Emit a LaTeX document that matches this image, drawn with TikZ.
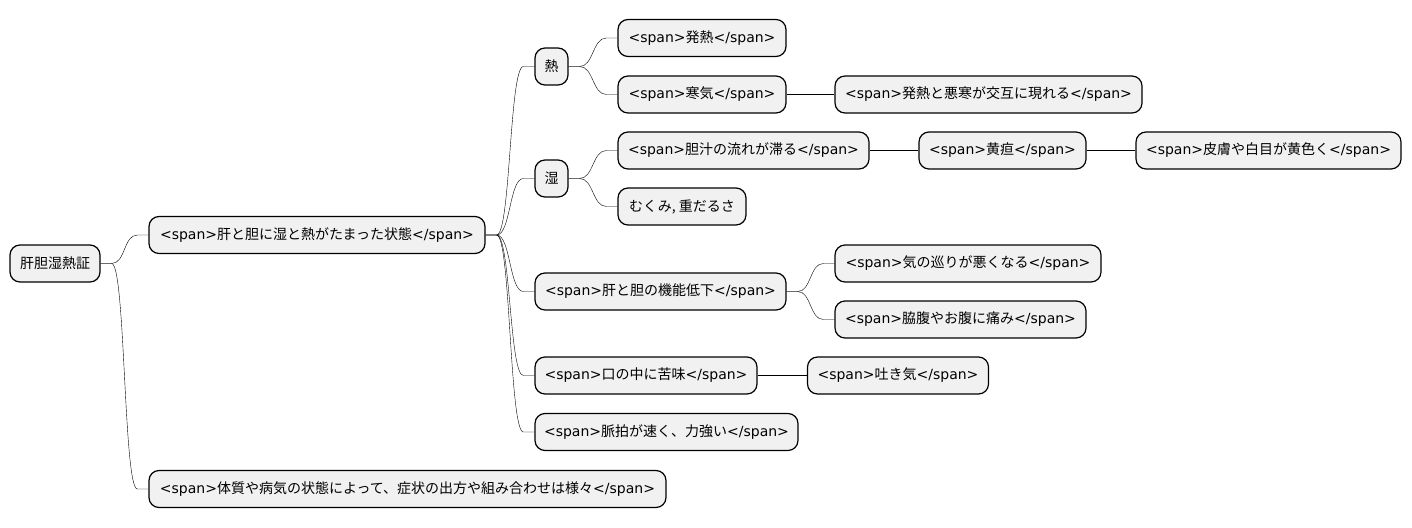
\documentclass[tikz,border=0pt]{standalone}
\usepackage{fontspec}
\setmainfont{Noto Sans CJK JP}
\newfontfamily\dejavu{DejaVu Sans}
\usetikzlibrary{calc}
\definecolor{boxfill}{HTML}{F1F1F1}
\newcommand\latn[1]{{\dejavu #1}}
\newcommand\spanned[1]{\latn{<span>}#1\latn{</span>}}
\tikzset{
  box/.style={draw=black, line width=1.2pt, fill=boxfill, rounded corners=10pt,
    inner sep=0pt, minimum height=37pt, align=center, font=\fontsize{14}{16}\selectfont},
  conn/.style={draw=black, line width=1pt,
    to path={-- ++(11,0) .. controls +(14,0) and +(-14,0) .. ($(\tikztotarget.west)+(-11,0)$) -- (\tikztotarget.west)}}
}
\begin{document}
\begin{tikzpicture}[x=1pt,y=-1pt]
\useasboundingbox (0,0) rectangle (1412,527);
% nodes
\node[box, minimum width=90pt]  (root)   at (55,263.5)   {肝胆湿熱証};
\node[box, minimum width=336pt] (A)      at (317,235)    {\spanned{肝と胆に湿と熱がたまった状態}};
\node[box, minimum width=517pt] (B)      at (407.5,489)  {\spanned{体質や病気の状態によって、症状の出方や組み合わせは様々}};
\node[box, minimum width=33pt]  (heat)   at (551.5,66.5) {熱};
\node[box, minimum width=168pt] (hatsu)  at (702,38)     {\spanned{発熱}};
\node[box, minimum width=168pt] (samuke) at (702,94.5)   {\spanned{寒気}};
\node[box, minimum width=307pt] (kougo)  at (988.5,94.5) {\spanned{発熱と悪寒が交互に現れる}};
\node[box, minimum width=33pt]  (shitsu) at (551.5,178.5){湿};
\node[box, minimum width=251pt] (tanju)  at (743.5,150.5){\spanned{胆汁の流れが滞る}};
\node[box, minimum width=167pt] (oudan)  at (1002.5,150.5){\spanned{黄疸}};
\node[box, minimum width=265pt] (hifu)   at (1268.5,150.5){\spanned{皮膚や白目が黄色く}};
\node[box, minimum width=128pt] (mukumi) at (682,206.5)  {むくみ, 重だるさ};
\node[box, minimum width=251pt] (kinou)  at (660.5,291.5){\spanned{肝と胆の機能低下}};
\node[box, minimum width=266pt] (ki)     at (968,263.5)  {\spanned{気の巡りが悪くなる}};
\node[box, minimum width=251pt] (waki)   at (960.5,319.5){\spanned{脇腹やお腹に痛み}};
\node[box, minimum width=222pt] (nigami) at (646,375.5)  {\spanned{口の中に苦味}};
\node[box, minimum width=181pt] (hakike) at (898,375.5)  {\spanned{吐き気}};
\node[box, minimum width=263pt] (myaku)  at (666.5,432)  {\spanned{脈拍が速く、力強い}};
% connectors
\draw (root.east) to[conn] (A);
\draw (root.east) to[conn] (B);
\draw (A.east) to[conn] (heat);
\draw (A.east) to[conn] (shitsu);
\draw (A.east) to[conn] (kinou);
\draw (A.east) to[conn] (nigami);
\draw (A.east) to[conn] (myaku);
\draw (heat.east) to[conn] (hatsu);
\draw (heat.east) to[conn] (samuke);
\draw (samuke.east) to[conn] (kougo);
\draw (shitsu.east) to[conn] (tanju);
\draw (shitsu.east) to[conn] (mukumi);
\draw (tanju.east) to[conn] (oudan);
\draw (oudan.east) to[conn] (hifu);
\draw (kinou.east) to[conn] (ki);
\draw (kinou.east) to[conn] (waki);
\draw (nigami.east) to[conn] (hakike);
\end{tikzpicture}
\end{document}
